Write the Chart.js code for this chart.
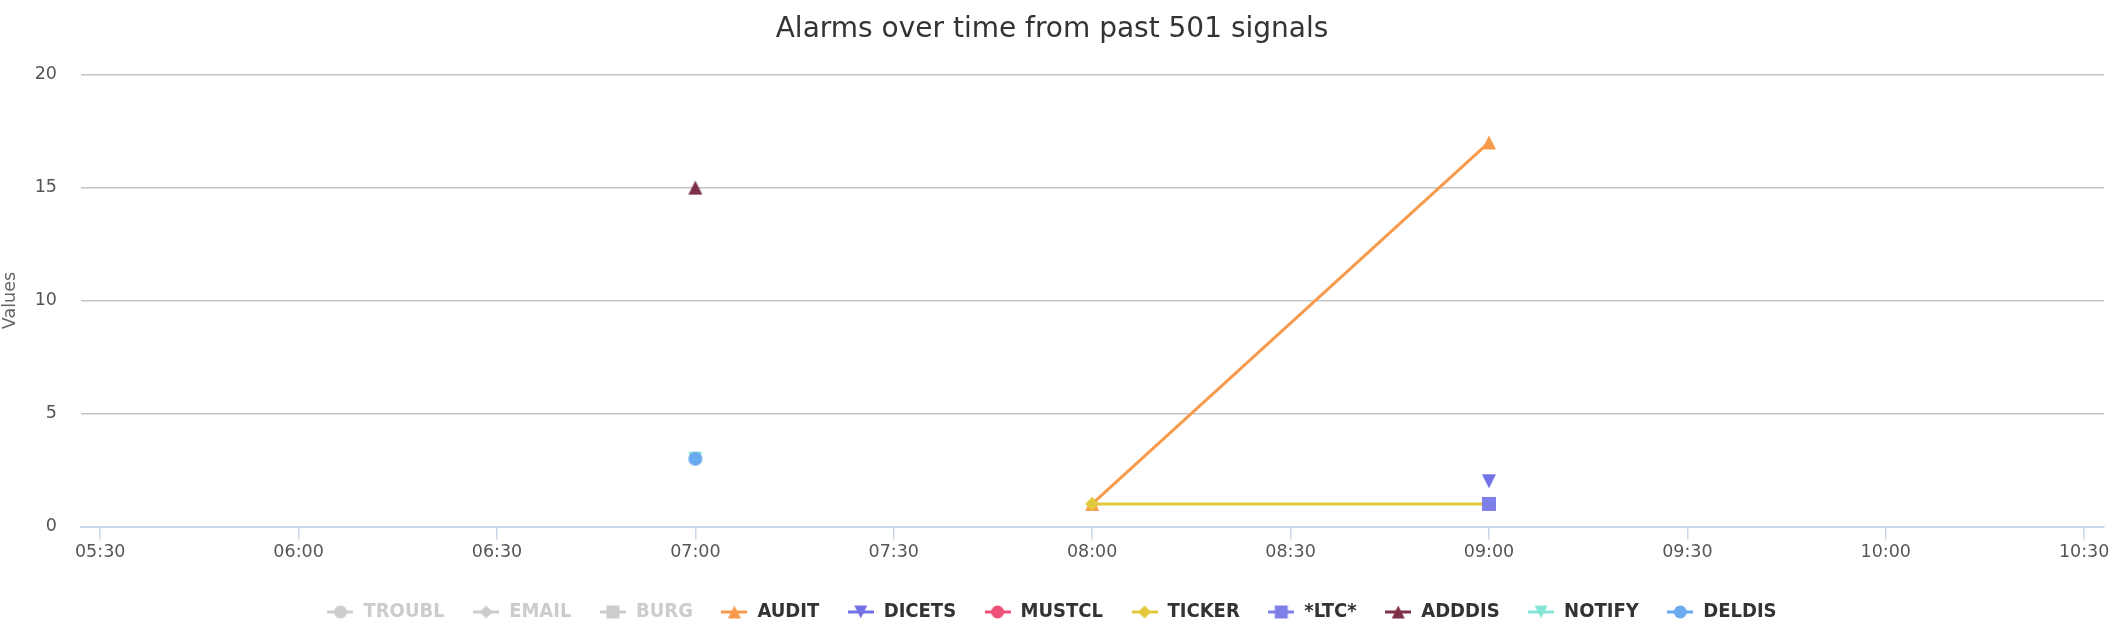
<!DOCTYPE html>
<html>
<head>
<meta charset="utf-8">
<script src="https://cdn.jsdelivr.net/npm/chart.js@4.4.1/dist/chart.umd.min.js"></script>
<style>
  html, body { margin: 0; padding: 0; background: #ffffff; }
  #wrap { width: 2122px; height: 638px; }
</style>
</head>
<body>
<div id="wrap"><canvas id="c" width="2122" height="638"></canvas></div>
<script>
// ---- data ----
const chartTitle = "Alarms over time from past 501 signals";
const yAxisTitle = "Values";
const times = ["07:00", "08:00", "09:00"];
const tickLabels = ["05:30", "06:00", "06:30", "07:00", "07:30", "08:00", "08:30", "09:00", "09:30", "10:00", "10:30"];
const yTicks = [0, 5, 10, 15, 20];

const seriesNames = ["TROUBL", "EMAIL", "BURG", "AUDIT", "DICETS", "MUSTCL", "TICKER", "*LTC*", "ADDDIS", "NOTIFY", "DELDIS"];
const troublValues = [null, null, null];
const emailValues  = [null, null, null];
const burgValues   = [null, null, null];
const auditValues  = [null, 1, 17];
const dicetsValues = [null, null, 2];
const mustclValues = [null, null, null];
const tickerValues = [null, 1, 1];
const ltcValues    = [null, null, 1];
const adddisValues = [15, null, null];
const notifyValues = [3, null, null];
const deldisValues = [3, null, null];
const hiddenSeries = ["TROUBL", "EMAIL", "BURG"];

// ---- styles ----
const seriesColors = ["#7cb5ec", "#434348", "#90ed7d", "#f89a4c", "#7272e6", "#ee5079", "#e2c83c", "#7e7fe8", "#7e3047", "#85e6d8", "#6aaaee"];
const seriesSymbols = ["circle", "diamond", "square", "triangle", "triangle-down", "circle", "diamond", "square", "triangle", "triangle-down", "circle"];
const allValues = [troublValues, emailValues, burgValues, auditValues, dicetsValues, mustclValues, tickerValues, ltcValues, adddisValues, notifyValues, deldisValues];
const R = 7;

function toMin(t) { const p = t.split(":"); return (+p[0]) * 60 + (+p[1]); }

function drawSymbol(ctx, sym, cx, cy, r, color) {
  ctx.fillStyle = color;
  ctx.beginPath();
  if (sym === "circle") {
    ctx.arc(cx, cy, r, 0, Math.PI * 2);
  } else if (sym === "diamond") {
    ctx.moveTo(cx, cy - r); ctx.lineTo(cx + r, cy); ctx.lineTo(cx, cy + r); ctx.lineTo(cx - r, cy);
  } else if (sym === "square") {
    ctx.rect(cx - r, cy - r, 2 * r, 2 * r);
  } else if (sym === "triangle") {
    ctx.moveTo(cx, cy - r); ctx.lineTo(cx + r, cy + r); ctx.lineTo(cx - r, cy + r);
  } else if (sym === "triangle-down") {
    ctx.moveTo(cx - r, cy - r); ctx.lineTo(cx + r, cy - r); ctx.lineTo(cx, cy + r);
  }
  ctx.closePath();
  ctx.fill();
}

function markerImage(sym, color) {
  const c = document.createElement("canvas");
  c.width = 2 * R + 2; c.height = 2 * R + 2;
  drawSymbol(c.getContext("2d"), sym, c.width / 2, c.height / 2, R, color);
  return c;
}
function legendImage(sym, color) {
  const c = document.createElement("canvas");
  c.width = 26; c.height = 2 * R + 2;
  const ctx = c.getContext("2d");
  ctx.strokeStyle = color; ctx.lineWidth = 3;
  ctx.beginPath(); ctx.moveTo(0, c.height / 2); ctx.lineTo(26, c.height / 2); ctx.stroke();
  drawSymbol(ctx, sym, 13, c.height / 2, R - 0.5, color);
  return c;
}

const datasets = seriesNames.map((name, i) => {
  const hidden = hiddenSeries.includes(name);
  return {
    label: name,
    data: times.map((t, k) => ({ x: toMin(t), y: allValues[i][k] })),
    borderColor: seriesColors[i],
    backgroundColor: seriesColors[i],
    borderWidth: 3,
    pointStyle: markerImage(seriesSymbols[i], seriesColors[i]),
    pointRadius: R,
    pointHoverRadius: R,
    showLine: true,
    spanGaps: false,
    hidden: hidden,
    order: 100 - i,
    _legendImg: legendImage(seriesSymbols[i], hidden ? "#cccccc" : seriesColors[i]),
    _legendHidden: hidden
  };
});

Chart.defaults.font.family = "'DejaVu Sans', sans-serif";

new Chart(document.getElementById("c"), {
  type: "line",
  data: { datasets: datasets },
  options: {
    responsive: false,
    animation: false,
    devicePixelRatio: 1,
    layout: { padding: { left: 0, right: 18, top: 0, bottom: 6 } },
    plugins: {
      tooltip: { enabled: false },
      title: {
        display: true,
        text: chartTitle,
        color: "#333333",
        font: { size: 28, weight: "normal" },
        padding: { top: 13, bottom: 28 }
      },
      legend: {
        display: true,
        position: "bottom",
        labels: {
          usePointStyle: true,
          pointStyleWidth: 26,
          padding: 28.5,
          font: { size: 20, weight: "bold", family: "'DejaVu Sans Condensed', 'DejaVu Sans', sans-serif" },
          color: "#333333",
          generateLabels: (chart) => chart.data.datasets.map((ds, i) => ({
            text: ds.label,
            fillStyle: ds._legendHidden ? "#cccccc" : ds.borderColor,
            strokeStyle: "transparent",
            lineWidth: 0,
            hidden: false,
            pointStyle: ds._legendImg,
            fontColor: ds._legendHidden ? "#cccccc" : "#333333",
            datasetIndex: i
          }))
        }
      }
    },
    scales: {
      x: {
        type: "linear",
        min: 327.1,
        max: 633,
        afterBuildTicks: (scale) => { scale.ticks = tickLabels.map(t => ({ value: toMin(t) })); },
        afterFit: (scale) => { scale.height = 47; },
        ticks: {
          autoSkip: false,
          maxRotation: 0,
          color: "#555555",
          font: { size: 17.5 },
          padding: 2,
          callback: (v) => { const i = tickLabels.findIndex(t => toMin(t) === v); return i >= 0 ? tickLabels[i] : ""; }
        },
        grid: {
          drawOnChartArea: false,
          drawTicks: true,
          tickLength: 13,
          color: "#ccd6eb",
          lineWidth: 1.5
        },
        border: { display: true, color: "#ccd6eb", width: 2 }
      },
      y: {
        min: 0,
        max: 20,
        afterBuildTicks: (scale) => { scale.ticks = yTicks.map(v => ({ value: v })); },
        afterFit: (scale) => { scale.width = 81; },
        ticks: {
          color: "#555555",
          font: { size: 17.5 },
          padding: 24
        },
        grid: {
          drawTicks: false,
          color: (ctx) => (ctx.tick && ctx.tick.value === 0) ? "rgba(0,0,0,0)" : "#c4c4c4",
          lineWidth: 1.5
        },
        border: { display: false },
        title: {
          display: true,
          text: yAxisTitle,
          color: "#666666",
          font: { size: 17.5 },
          padding: { top: 0, bottom: 0 }
        }
      }
    }
  }
});
</script>
</body>
</html>
